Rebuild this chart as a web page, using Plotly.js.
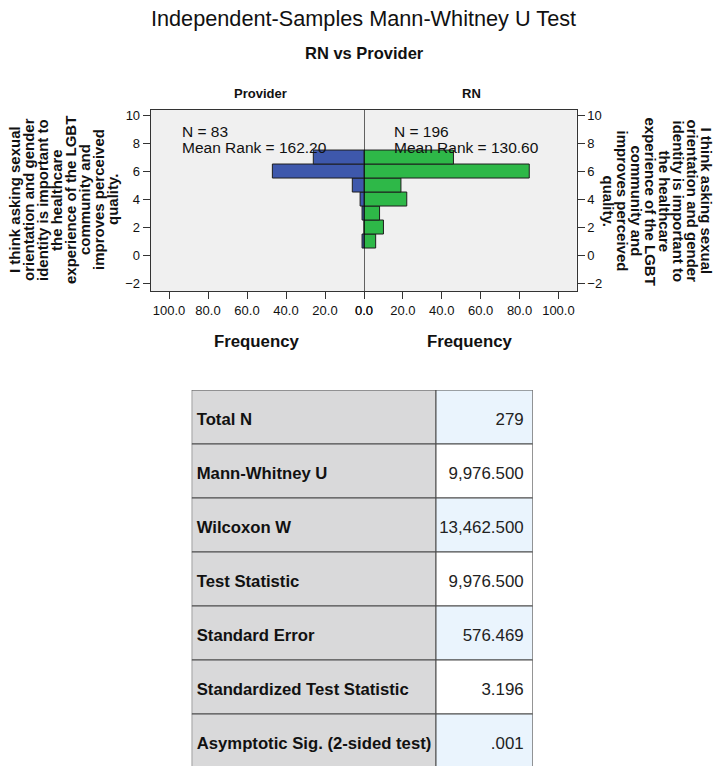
<!DOCTYPE html>
<html>
<head>
<meta charset="utf-8">
<script src="https://cdn.plot.ly/plotly-3.0.1.min.js"></script>
<style>html,body{margin:0;padding:0;background:#fff;}#chart{width:713px;height:766px;}</style>
</head>
<body>
<div id="chart"></div>
<script>
// ---- data ----
const bins = [1, 2, 3, 4, 5, 6, 7];
const providerFreq = [1, 0, 1, 2, 6, 47, 26];
const rnFreq = [6, 10, 8, 22, 19, 85, 46];
const groupNames = ['Provider', 'RN'];
const groupN = [83, 196];
const groupMeanRank = ['162.20', '130.60'];
const xTickVals = [0, 20, 40, 60, 80, 100];
const yTickVals = [-2, 0, 2, 4, 6, 8, 10];
const yTitleLines = ['I think asking sexual', 'orientation and gender', 'identity is important to',
  'the healthcare', 'experience of the LGBT', 'community and', 'improves perceived', 'quality.'];
const statLabels = ['Total N', 'Mann-Whitney U', 'Wilcoxon W', 'Test Statistic', 'Standard Error',
  'Standardized Test Statistic', 'Asymptotic Sig. (2-sided test)'];
const statValues = ['279', '9,976.500', '13,462.500', '9,976.500', '576.469', '3.196', '.001'];

// ---- geometry helpers (pixels -> paper) ----
const W = 713, H = 766;
const px = x => x / W;
const py = y => 1 - y / H;
const FONT = 'Liberation Sans, Arial, sans-serif';

// table geometry (pixels)
const TBL_LEFT = 191.7, TBL_RIGHT = 532.7, TBL_TOP = 390, ROW_H = 54;
const COL1_W = 244.3, COL2_W = TBL_RIGHT - TBL_LEFT - COL1_W;
const TEXT_DROP = 0.07; // text sits slightly below the row centre
const rowIdx = statLabels.map((_, i) => i);
const tblRowsVisible = (H - TBL_TOP) / ROW_H;

const traces = [
  {type: 'bar', orientation: 'h', y: bins, x: providerFreq, xaxis: 'x', yaxis: 'y', width: 1,
   marker: {color: '#3E58AC', line: {color: '#1e1e1e', width: 1}}},
  {type: 'bar', orientation: 'h', y: bins, x: rnFreq, xaxis: 'x2', yaxis: 'y2', width: 1,
   marker: {color: '#2EB848', line: {color: '#1e1e1e', width: 1}}},
  // table: cells as bars on a hidden pixel-scaled axis pair
  {type: 'bar', orientation: 'h', y: rowIdx, x: rowIdx.map(() => COL1_W), base: 0,
   xaxis: 'x3', yaxis: 'y3', width: 1,
   marker: {color: '#D9D9DA', line: {color: '#4a4a4a', width: 1}}},
  {type: 'bar', orientation: 'h', y: rowIdx, x: rowIdx.map(() => COL2_W), base: COL1_W,
   xaxis: 'x3', yaxis: 'y3', width: 1,
   marker: {color: rowIdx.map(i => i % 2 === 0 ? '#EAF4FD' : '#FFFFFF'), line: {color: '#4a4a4a', width: 1}}},
  {type: 'scatter', mode: 'text', x: rowIdx.map(() => 5), y: rowIdx.map(i => i + TEXT_DROP),
   text: statLabels.map(s => '<b>' + s + '</b>'), textposition: 'middle right',
   textfont: {family: FONT, size: 16.7, color: '#111'}, xaxis: 'x3', yaxis: 'y3', cliponaxis: false},
  {type: 'scatter', mode: 'text', x: rowIdx.map(() => COL1_W + COL2_W - 9), y: rowIdx.map(i => i + TEXT_DROP),
   text: statValues, textposition: 'middle left',
   textfont: {family: FONT, size: 16.9, color: '#222'}, xaxis: 'x3', yaxis: 'y3', cliponaxis: false}
];

const axisFont = {family: FONT, size: 13, color: '#111'};
const yDomain = [py(291), py(110)];
const yRange = [-2.57, 10.36];

const annotations = [];
// panel titles
[[260, groupNames[0]], [471.5, groupNames[1]]].forEach(([x, t]) => {
  annotations.push({xref: 'paper', yref: 'paper', x: px(x), y: py(93), text: '<b>' + t + '</b>',
    showarrow: false, xanchor: 'center', yanchor: 'middle', font: {family: FONT, size: 13, color: '#111'}});
});
// x axis titles
[257, 470].forEach(x => {
  annotations.push({xref: 'paper', yref: 'paper', x: px(x), y: py(341.5), text: '<b>Frequency</b>',
    showarrow: false, xanchor: 'center', yanchor: 'middle', font: {family: FONT, size: 16.8, color: '#111'}});
});
// N and mean rank
[181, 392.5].forEach((x, i) => {
  annotations.push({xref: 'paper', yref: 'paper', x: px(x), y: py(131), text: 'N = ' + groupN[i], borderpad: 0,
    showarrow: false, xanchor: 'left', yanchor: 'middle', font: {family: FONT, size: 15.5, color: '#111'}});
  annotations.push({xref: 'paper', yref: 'paper', x: px(x), y: py(147), text: 'Mean Rank = ' + groupMeanRank[i], borderpad: 0,
    showarrow: false, xanchor: 'left', yanchor: 'middle', font: {family: FONT, size: 15.5, color: '#111'}});
});
// y axis titles (one annotation per line for tight line spacing)
yTitleLines.forEach((line, i) => {
  annotations.push({xref: 'paper', yref: 'paper', x: px(15 + 14 * i), y: py(200), text: '<b>' + line + '</b>',
    textangle: -90, showarrow: false, xanchor: 'center', yanchor: 'middle', font: {family: FONT, size: 15, color: '#111'}});
  annotations.push({xref: 'paper', yref: 'paper', x: px(706.5 - 14 * i), y: py(201), text: '<b>' + line + '</b>',
    textangle: 90, showarrow: false, xanchor: 'center', yanchor: 'middle', font: {family: FONT, size: 15, color: '#111'}});
});
// subtitle
annotations.push({xref: 'paper', yref: 'paper', x: px(364), y: py(53), text: '<b>RN vs Provider</b>',
  showarrow: false, xanchor: 'center', yanchor: 'middle', font: {family: FONT, size: 16.5, color: '#111'}});

const commonX = {tickvals: xTickVals, tickformat: '.1f', ticks: 'outside', ticklen: 7, tickcolor: '#333',
  showgrid: false, zeroline: false, showline: true, mirror: true, linecolor: '#333', linewidth: 1,
  tickfont: axisFont, fixedrange: true};
const commonY = {domain: yDomain, range: yRange, tickvals: yTickVals, ticks: 'outside', ticklen: 7,
  tickcolor: '#333', showgrid: false, zeroline: false, showline: true, linecolor: '#333', linewidth: 1,
  tickfont: axisFont, fixedrange: true};

const layout = {
  width: W, height: H,
  margin: {l: 0, r: 0, t: 0, b: 0},
  paper_bgcolor: '#FFFFFF', plot_bgcolor: '#F0F0F0',
  showlegend: false,
  barmode: 'overlay',
  bargap: 0,
  title: {text: 'Independent-Samples Mann-Whitney U Test', x: px(363.5), xanchor: 'center',
          y: py(18.5), yanchor: 'middle', font: {family: FONT, size: 21.7, color: '#111'}},
  xaxis: Object.assign({domain: [px(150.7), px(364)], range: [109.4, 0], anchor: 'y'}, commonX),
  xaxis2: Object.assign({domain: [px(364), px(576.7)], range: [0, 109.4], anchor: 'y2'}, commonX),
  yaxis: Object.assign({anchor: 'x', side: 'left'}, commonY),
  yaxis2: Object.assign({anchor: 'x2', side: 'right'}, commonY),
  xaxis3: {domain: [px(TBL_LEFT), px(TBL_RIGHT)], range: [0, TBL_RIGHT - TBL_LEFT], anchor: 'y3',
           visible: false, fixedrange: true},
  yaxis3: {domain: [0, py(TBL_TOP)], range: [tblRowsVisible - 0.5, -0.5], anchor: 'x3',
           visible: false, fixedrange: true},
  shapes: [{type: 'line', xref: 'x2', x0: 0, x1: 0, yref: 'y2 domain', y0: 0, y1: 1,
            line: {color: '#000', width: 1.2}, layer: 'above'}],
  annotations: annotations
};

Plotly.newPlot('chart', traces, layout, {displayModeBar: false, staticPlot: true});
</script>
</body>
</html>
